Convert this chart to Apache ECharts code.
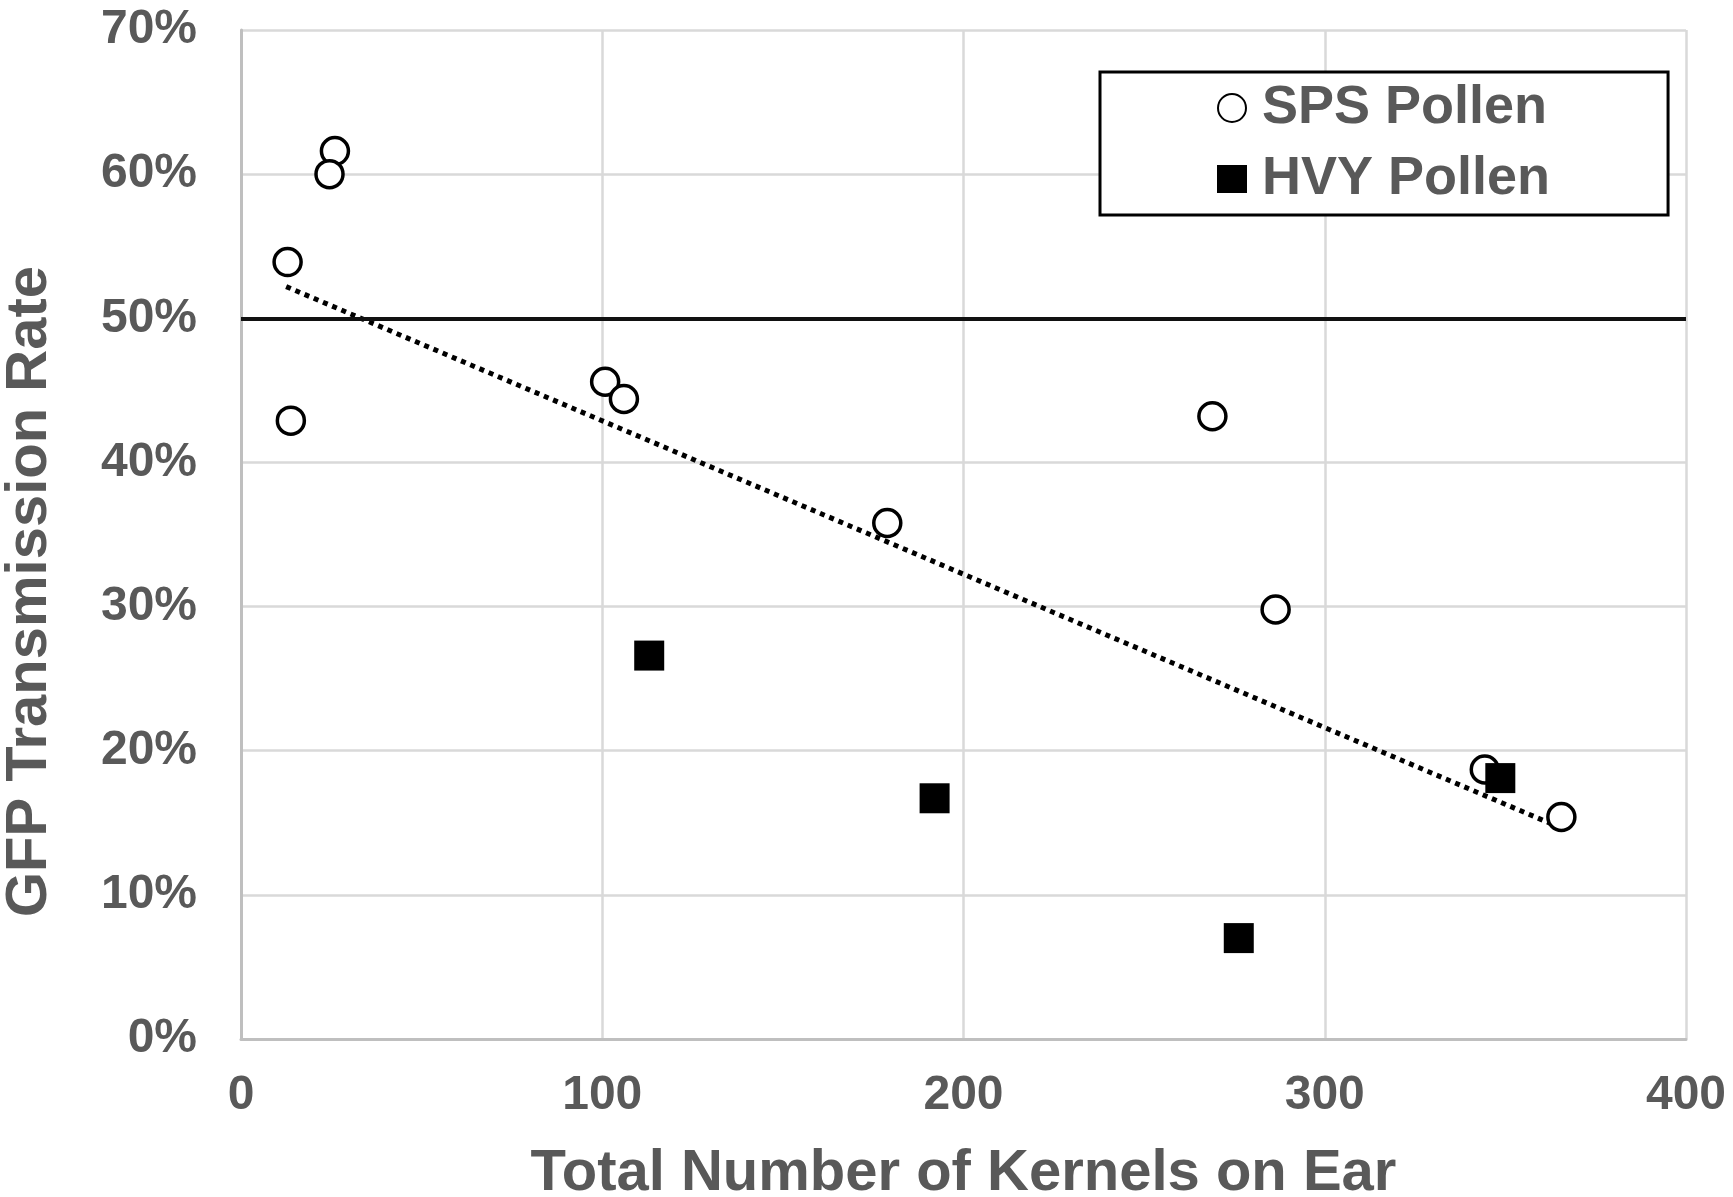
<!DOCTYPE html>
<html>
<head>
<meta charset="utf-8">
<script src="https://cdn.jsdelivr.net/npm/echarts@6/dist/echarts.min.js"></script>
<style>
html,body{margin:0;padding:0;background:#fff;}
#chart{width:1733px;height:1197px;}
</style>
</head>
<body>
<div id="chart"></div>
<script>
// Data
var spsPoints = [[12.9,53.9],[13.8,42.9],[26.0,61.6],[24.5,60.0],[100.8,45.6],[106.0,44.4],[178.9,35.8],[268.9,43.2],[286.4,29.8],[344.3,18.7],[365.5,15.4]];
var hvyPoints = [[113.0,26.6],[192.0,16.7],[276.2,7.0],[348.6,18.1]];
var trendPoints = [[12.5,52.2],[363.0,14.9]];
var referenceLevel = 50;
var xTicks = {min:0, max:400, interval:100};
var yTicks = {min:0, max:70, interval:10};
var seriesNames = ['SPS Pollen','HVY Pollen'];
var xTitle = 'Total Number of Kernels on Ear';
var yTitle = 'GFP Transmission Rate';

var FONT = '"Liberation Sans", Arial, sans-serif';
var GREY = '#595959';
var chart = echarts.init(document.getElementById('chart'), null, {renderer:'canvas'});
chart.setOption({
  animation:false,
  backgroundColor:'#ffffff',
  grid:{left:241, right:47, top:30, bottom:158, containLabel:false, outerBoundsMode:'none'},
  xAxis:{
    type:'value', min:xTicks.min, max:xTicks.max, interval:xTicks.interval,
    name:xTitle, nameLocation:'middle', nameGap:106,
    nameTextStyle:{fontFamily:FONT, fontWeight:'bold', fontSize:58, color:GREY},
    axisLine:{show:true, lineStyle:{color:'#bfbfbf', width:3}},
    axisTick:{show:false},
    axisLabel:{fontFamily:FONT, fontWeight:'bold', fontSize:48, color:GREY, margin:33},
    splitLine:{show:true, lineStyle:{color:'#d9d9d9', width:2.5}}
  },
  yAxis:{
    type:'value', min:yTicks.min, max:yTicks.max, interval:yTicks.interval,
    name:yTitle, nameLocation:'middle', nameGap:182,
    nameTextStyle:{fontFamily:FONT, fontWeight:'bold', fontSize:58, color:GREY, padding:[0,114,0,0]},
    axisLine:{show:true, lineStyle:{color:'#bfbfbf', width:3}},
    axisTick:{show:false},
    axisLabel:{fontFamily:FONT, fontWeight:'bold', fontSize:48, color:GREY, margin:44, formatter:'{value}%'},
    splitLine:{show:true, lineStyle:{color:'#d9d9d9', width:2.5}}
  },
  legend:{
    data:seriesNames,
    orient:'vertical',
    left:1100, top:72,
    padding:[6,118,6,117],
    itemGap:11,
    itemWidth:30, itemHeight:28,
    backgroundColor:'#ffffff',
    borderColor:'#000000', borderWidth:3,
    textStyle:{fontFamily:FONT, fontWeight:'bold', fontSize:54, color:GREY, lineHeight:60, padding:[0,0,0,10]}
  },
  series:[
    {
      name:'trend', type:'line', data:trendPoints, symbol:'none', silent:true,
      lineStyle:{color:'#000000', width:5, type:[5,5]},
      markLine:{
        silent:true, symbol:['none','none'], label:{show:false},
        lineStyle:{color:'#111111', width:4, type:'solid'},
        data:[{yAxis:referenceLevel}]
      },
      z:2
    },
    {
      name:seriesNames[0], type:'scatter', data:spsPoints, symbol:'circle', symbolSize:27,
      itemStyle:{color:'#ffffff', borderColor:'#000000', borderWidth:3.5, opacity:1},
      z:3
    },
    {
      name:seriesNames[1], type:'scatter', data:hvyPoints, symbol:'rect', symbolSize:30,
      itemStyle:{color:'#000000', opacity:1},
      z:4
    }
  ]
});
</script>
</body>
</html>
